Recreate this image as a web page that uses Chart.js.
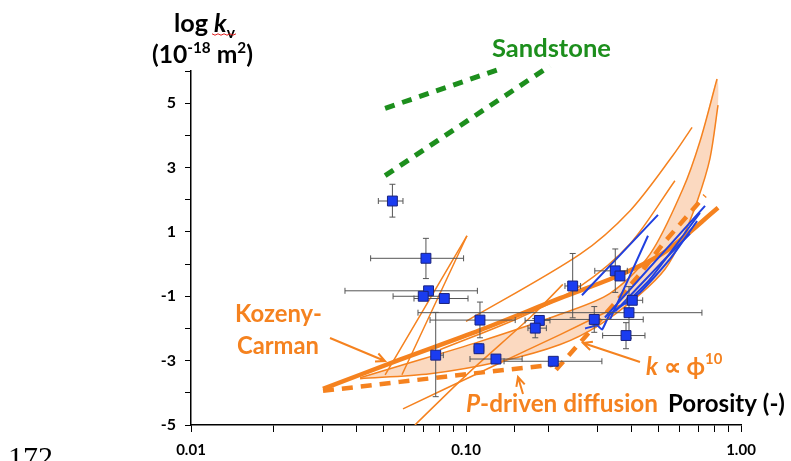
<!DOCTYPE html>
<html>
<head>
<meta charset="utf-8">
<script src="https://cdn.jsdelivr.net/npm/chart.js@4.4.0/dist/chart.umd.min.js"></script>
<style>
html,body{margin:0;padding:0;background:#fff;}
#wrap{width:791px;height:461px;}
</style>
</head>
<body>
<div id="wrap"><canvas id="c" width="791" height="461"></canvas></div>
<script>
// porosity (phi, -) vs log permeability (log k, 10^-18 m2)

// measured samples with error bars
const ptPhi    = [0.054, 0.0715, 0.0731, 0.0699, 0.0834, 0.0776, 0.1124, 0.1115, 0.1285, 0.2077, 0.1848, 0.1786, 0.2443, 0.349, 0.363, 0.4025, 0.3915, 0.2927, 0.3818];
const ptLogK   = [1.96, 0.18, -0.83, -1.0, -1.07, -2.83, -1.74, -2.63, -2.95, -3.02, -1.75, -1.99, -0.68, -0.21, -0.37, -1.125, -1.51, -1.72, -2.22];
const ptPhiLo  = [0.048, 0.045, 0.0363, 0.0543, 0.0647, 0.075, 0.074, 0.107, 0.1034, 0.1375, 0.164, 0.168, 0.229, 0.294, null, 0.385, 0.0669, 0.186, 0.314];
const ptPhiHi  = [0.059, 0.098, 0.110, 0.0839, 0.1017, 0.0827, 0.151, 0.116, 0.160, 0.312, 0.202, 0.196, 0.261, 0.386, null, 0.439, 0.721, 0.441, 0.4475];
const ptLogKLo = [1.46, -0.45, null, null, null, -4.12, -2.29, -2.78, -3.08, -3.14, -1.9, -2.29, -1.67, -0.88, null, null, -2.3, -2.12, -2.63];
const ptLogKHi = [2.48, 0.80, null, null, null, -1.5, -1.18, -2.48, -2.82, -2.9, -1.6, -1.69, 0.33, 0.47, null, null, -0.7, -1.32, -1.82];

// sandstone trends (green dashed)
const ssUpPhi = [0.0508, 0.136];
const ssUpLogK = [4.84, 6.09];
const ssLoPhi = [0.0508, 0.202];
const ssLoLogK = [2.75, 6.16];

// Kozeny-Carman (thick solid)
const kcPhi = [0.0302, 0.0575, 0.112, 0.220, 0.363, 0.529, 0.825];
const kcLogK = [-3.88, -2.97, -2.06, -1.06, -0.34, 0.38, 1.75];

// P-driven diffusion (thick dashed)
const pdPhi = [0.0302, 0.0575, 0.122, 0.207];
const pdLogK = [-3.94, -3.66, -3.34, -3.13];

// k ~ phi^10 (thick dashed)
const p10Phi = [0.2125, 0.266, 0.340, 0.429, 0.520, 0.740];
const p10LogK = [-3.28, -2.34, -1.31, -0.31, 0.63, 2.13];

// band of model curves (thin orange, filled between)
const bandUpPhi = [0.0412, 0.0575, 0.112, 0.220, 0.334, 0.467, 0.615, 0.709, 0.818];
const bandUpLogK = [-3.53, -3.16, -2.41, -1.56, -0.91, 0.31, 2.34, 3.81, 5.75];
const bandLoPhi = [0.0412, 0.074, 0.133, 0.220, 0.307, 0.429, 0.529, 0.610, 0.692, 0.771, 0.825];
const bandLoLogK = [-3.56, -3.41, -3.03, -2.5, -1.88, -0.94, -0.16, 0.78, 1.94, 3.28, 4.94];

// other thin orange model curves
const thin1Phi = [0.100, 0.260, 0.395, 0.566, 0.664];
const thin1LogK = [-1.78, 0.31, 1.66, 3.38, 4.25];
const thin2Phi = [0.0804, 0.157, 0.260, 0.395, 0.575];
const thin2LogK = [-2.66, -1.66, -0.69, 0.63, 2.59];
const steep1Phi = [0.0508, 0.1008];
const steep1LogK = [-3.44, 0.88];
const steep2Phi = [0.0585, 0.1008];
const steep2LogK = [-3.44, 0.88];
const thin3Phi = [0.059, 0.122, 0.220, 0.363];
const thin3LogK = [-4.5, -3.22, -2.19, -1.28];
const thin4Phi = [0.0652, 0.1034, 0.171, 0.225];
const thin4LogK = [-5, -3.34, -1.66, -0.63];

// measured compaction paths (blue)
const blue1Phi = [0.264, 0.499];
const blue1LogK = [-0.97, 1.53];
const blue2Phi = [0.271, 0.300, 0.3125, 0.334, 0.429, 0.552, 0.692];
const blue2LogK = [-2.0, -1.91, -2.03, -1.56, -0.88, 0.16, 1.34];
const blue3Phi = [0.320, 0.740];
const blue3LogK = [-1.66, 1.81];
const blue4Phi = [0.334, 0.459];
const blue4LogK = [-1.72, 0.88];
const blue5Phi = [0.349, 0.508, 0.652];
const blue5LogK = [-1.47, 0.0, 0.94];
const blue6Phi = [0.379, 0.467, 0.709];
const blue6LogK = [-1.25, -0.47, 1.59];

const xTicks = [0.01, 0.1, 1];

const FONT = 'Lato, "Open Sans", sans-serif';
const ORANGE = '#f5821f';
const GREEN = '#1d8f1d';
const BLUE = '#2040e0';

const zip = (xs, ys) => xs.map((x, i) => ({x, y: ys[i]}));

const thin = (xs, ys) => ({data: zip(xs, ys), showLine: true, borderColor: ORANGE, borderWidth: 1.5, pointRadius: 0, tension: 0.3});
const blueLine = (xs, ys) => ({data: zip(xs, ys), showLine: true, borderColor: BLUE, borderWidth: 2, pointRadius: 0, tension: 0.2});

const errorBars = {
    id: 'errorBars',
    beforeDatasetDraw(chart, args) {
        if (args.index !== 0) return;
        const {ctx, scales: {x, y}} = chart;
        const cap = 3;
        ctx.save();
        ctx.strokeStyle = '#555';
        ctx.lineWidth = 1;
        ctx.beginPath();
        ptPhi.forEach((p, i) => {
            const px = x.getPixelForValue(p), py = y.getPixelForValue(ptLogK[i]);
            if (ptPhiLo[i] != null) {
                const a = x.getPixelForValue(ptPhiLo[i]), b = x.getPixelForValue(ptPhiHi[i]);
                ctx.moveTo(a, py); ctx.lineTo(b, py);
                ctx.moveTo(a, py - cap); ctx.lineTo(a, py + cap);
                ctx.moveTo(b, py - cap); ctx.lineTo(b, py + cap);
            }
            if (ptLogKLo[i] != null) {
                const a = y.getPixelForValue(ptLogKLo[i]), b = y.getPixelForValue(ptLogKHi[i]);
                ctx.moveTo(px, a); ctx.lineTo(px, b);
                ctx.moveTo(px - cap, a); ctx.lineTo(px + cap, a);
                ctx.moveTo(px - cap, b); ctx.lineTo(px + cap, b);
            }
        });
        ctx.stroke();
        ctx.restore();
    }
};

// bold text made of parts [text, italic, scale, rise], stretched to a given width
function rich(ctx, x, y, parts, width, color) {
    const base = 20;
    const fontOf = (p, s) => (p[1] ? 'italic ' : '') + 'bold ' + (s * (p[2] || 1)).toFixed(2) + 'px ' + FONT;
    let w = 0;
    parts.forEach(p => { ctx.font = fontOf(p, base); w += ctx.measureText(p[0]).width; });
    const s = base * width / w;
    let cx = x;
    ctx.fillStyle = color;
    ctx.textAlign = 'left';
    ctx.textBaseline = 'alphabetic';
    parts.forEach(p => {
        ctx.font = fontOf(p, s);
        ctx.fillText(p[0], cx, y - (p[3] || 0) * s);
        cx += ctx.measureText(p[0]).width;
    });
}

function arrow(ctx, x1, y1, x2, y2) {
    const a = Math.atan2(y2 - y1, x2 - x1), L = 10, t = 0.45;
    ctx.beginPath();
    ctx.moveTo(x1, y1); ctx.lineTo(x2, y2);
    ctx.moveTo(x2 - L * Math.cos(a - t), y2 - L * Math.sin(a - t));
    ctx.lineTo(x2, y2);
    ctx.lineTo(x2 - L * Math.cos(a + t), y2 - L * Math.sin(a + t));
    ctx.stroke();
}

const labels = {
    id: 'labels',
    afterDraw(chart) {
        const ctx = chart.ctx;
        ctx.save();
        rich(ctx, 174, 32, [['log ', 0], ['k', 1], ['v', 0, 0.62, -0.22]], 61, '#000');
        // spell-check squiggle under k_v
        ctx.strokeStyle = '#e02020'; ctx.lineWidth = 1;
        ctx.beginPath();
        for (let i = 0; i <= 8; i++) {
            const xx = 212 + i * 3, yy = 34 + (i % 2 ? 1.2 : -0.2);
            if (i === 0) ctx.moveTo(xx, yy); else ctx.lineTo(xx, yy);
        }
        ctx.stroke();
        rich(ctx, 152, 63, [['(10', 0], ['-18', 0, 0.62, 0.42], [' m', 0], ['2', 0, 0.62, 0.42], [')', 0]], 101, '#000');
        rich(ctx, 492, 57, [['Sandstone', 0]], 119, GREEN);
        rich(ctx, 235, 322, [['Kozeny-', 0]], 87, ORANGE);
        rich(ctx, 237, 354, [['Carman', 0]], 82, ORANGE);
        rich(ctx, 646, 375, [['k', 1], [' \u221D ', 0], ['\u03D5', 0], ['10', 0, 0.62, 0.45]], 76, ORANGE);
        rich(ctx, 466, 412, [['P', 1], ['-driven diffusion', 0]], 192, ORANGE);
        rich(ctx, 668, 412, [['Porosity (-)', 0]], 117, '#000');

        ctx.strokeStyle = ORANGE; ctx.lineWidth = 2;
        arrow(ctx, 330, 338, 385, 361);
        arrow(ctx, 640, 362, 583, 343);
        arrow(ctx, 523, 394, 518, 377);

        ctx.fillStyle = '#000';
        ctx.font = '30px "Liberation Serif", serif';
        ctx.textAlign = 'left';
        ctx.fillText('172', 8, 467);
        ctx.restore();
    }
};

new Chart(document.getElementById('c'), {
    type: 'scatter',
    data: {
        datasets: [
            {data: zip(ptPhi, ptLogK), pointStyle: 'rect', pointRadius: 7, pointHoverRadius: 7,
             backgroundColor: '#1a3cf0', borderColor: '#1a237e', borderWidth: 1},
            blueLine(blue1Phi, blue1LogK),
            blueLine(blue2Phi, blue2LogK),
            blueLine(blue3Phi, blue3LogK),
            blueLine(blue4Phi, blue4LogK),
            blueLine(blue5Phi, blue5LogK),
            blueLine(blue6Phi, blue6LogK),
            {data: zip(kcPhi, kcLogK), showLine: true, borderColor: ORANGE, borderWidth: 4.5, pointRadius: 0, tension: 0.3},
            {data: zip(pdPhi, pdLogK), showLine: true, borderColor: ORANGE, borderWidth: 4.5, borderDash: [11, 8], pointRadius: 0},
            {data: zip(p10Phi, p10LogK), showLine: true, borderColor: ORANGE, borderWidth: 4.5, borderDash: [11, 8], pointRadius: 0},
            thin(thin1Phi, thin1LogK),
            thin(thin2Phi, thin2LogK),
            thin(steep1Phi, steep1LogK),
            thin(steep2Phi, steep2LogK),
            thin(thin3Phi, thin3LogK),
            thin(thin4Phi, thin4LogK),
            thin(bandUpPhi, bandUpLogK),
            thin(bandLoPhi, bandLoLogK),
            {data: zip(bandUpPhi.concat(bandLoPhi.slice().reverse()), bandUpLogK.concat(bandLoLogK.slice().reverse())),
             showLine: true, borderWidth: 0, borderColor: 'rgba(0,0,0,0)', backgroundColor: '#fbd9c0', fill: 'shape', pointRadius: 0, tension: 0.3},
            {data: zip(ssUpPhi, ssUpLogK), showLine: true, borderColor: GREEN, borderWidth: 5, borderDash: [10, 8], pointRadius: 0, clip: false},
            {data: zip(ssLoPhi, ssLoLogK), showLine: true, borderColor: GREEN, borderWidth: 5, borderDash: [10, 8], pointRadius: 0, clip: false}
        ]
    },
    options: {
        responsive: false,
        animation: false,
        devicePixelRatio: 1,
        layout: {padding: {left: 151, right: 50, top: 71, bottom: 0}},
        plugins: {legend: {display: false}, tooltip: {enabled: false}},
        scales: {
            x: {
                type: 'logarithmic', min: 0.01, max: 1,
                border: {color: '#000', width: 1.5},
                grid: {drawOnChartArea: false, drawTicks: true, tickLength: 7, color: '#000'},
                ticks: {
                    autoSkip: false, maxRotation: 0, color: '#000', padding: 9,
                    font: {family: FONT, size: 15, weight: 'bold'},
                    callback: v => xTicks.some(t => Math.abs(Math.log10(v) - Math.log10(t)) < 1e-6) ? v.toFixed(2) : ''
                },
                afterFit: s => { s.height = 36; }
            },
            y: {
                min: -5, max: 6,
                border: {color: '#000', width: 1.5},
                grid: {drawOnChartArea: false, drawTicks: true, tickLength: 6, color: '#000'},
                ticks: {
                    stepSize: 1, color: '#000', padding: 9,
                    font: {family: FONT, size: 16, weight: 'bold'},
                    callback: v => Math.abs(v) % 2 === 1 ? String(v) : ''
                },
                afterFit: s => { s.width = 40; }
            }
        }
    },
    plugins: [errorBars, labels]
});
</script>
</body>
</html>
